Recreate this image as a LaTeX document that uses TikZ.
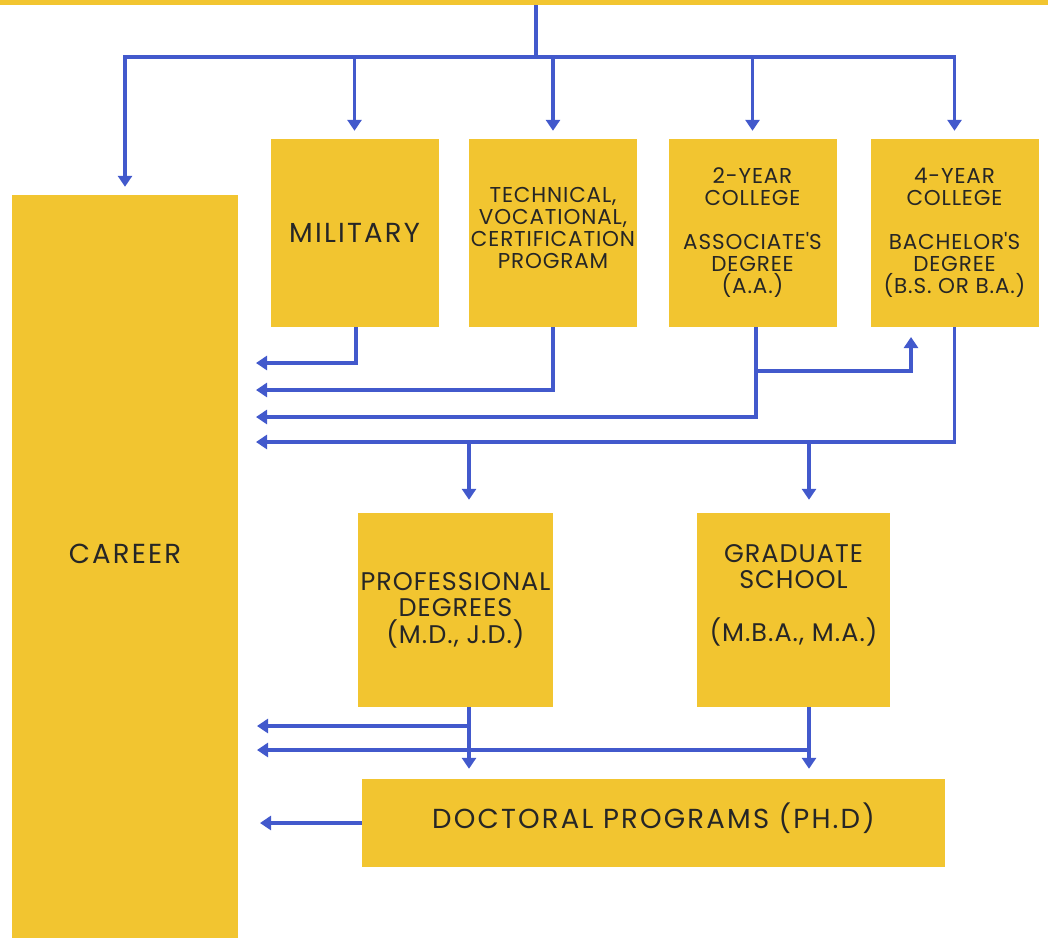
\documentclass[tikz,border=0pt]{standalone}
\usepackage{fontspec}
\setmainfont{Poppins}
\newfontfamily\smallface{Poppins}[LetterSpace=4]
\newfontfamily\largeface{Poppins}[LetterSpace=4]
\newfontfamily\hugeface{Poppins}[LetterSpace=8]
\usetikzlibrary{arrows.meta,positioning,calc}
\definecolor{boxyellow}{HTML}{F2C530}
\definecolor{flowblue}{HTML}{4259CC}

\begin{document}
\begin{tikzpicture}[x=1pt, y=-1pt,
  box/.style={fill=boxyellow, inner sep=0pt, align=center, text=black!85},
  small/.style={box, font=\smallface\fontsize{21.5}{22}\selectfont,
                minimum width=168pt, minimum height=188pt},
  large/.style={box, font=\largeface\fontsize{25.5}{26.5}\selectfont},
  huge/.style={box, font=\hugeface\fontsize{27.5}{28}\selectfont},
  link/.style={flowblue, line width=3.5pt},
  arrow/.style={link, -{Triangle[length=11pt,width=14pt]}},
]
  \useasboundingbox (0,0) rectangle (1048,938);

  % Boxes
  \node[box, minimum width=1048pt, minimum height=5pt, anchor=north] (start) at (524,0) {};
  \node[huge, minimum width=226pt, minimum height=743pt, text depth=26pt] (career) at (125,566.5) {CAREER};
  \node[small, huge] (mil) at (354.5,233) {MILITARY};
  \node[small, text depth=10pt] (tech) at (553,233) {TECHNICAL,\\VOCATIONAL,\\CERTIFICATION\\PROGRAM};
  \node[small] (two) at (752.5,233) {2-YEAR\\COLLEGE\\[22pt]ASSOCIATE\textquotesingle S\\DEGREE\\(A.A.)};
  \node[small] (four) at (954.5,233) {4-YEAR\\COLLEGE\\[22pt]BACHELOR\textquotesingle S\\DEGREE\\(B.S. OR B.A.)};
  \node[large, minimum width=195pt, minimum height=194pt] (prof) at (455.5,610) {PROFESSIONAL\\DEGREES\\(M.D., J.D.)};
  \node[large, minimum width=193pt, minimum height=194pt, text depth=35pt] (grad) at (793.5,610) {GRADUATE\\SCHOOL\\[26pt](M.B.A., M.A.)};
  \node[huge, minimum width=583pt, minimum height=88pt, text depth=15pt] (doc) at (653.5,823) {DOCTORAL PROGRAMS (PH.D)};

  % Ends of the arrows into career
  \coordinate (hub) at (536,57);
  \coordinate (t1) at (256,363);
  \coordinate (t2) at (256,390);
  \coordinate (t3) at (256,417);
  \coordinate (t4) at (256,442);
  \coordinate (t5) at (257,726);
  \coordinate (t6) at (257,750);
  \coordinate (t7) at (260,823);
  \coordinate (up4) at (911,337);
  \coordinate (b1) at (469,442);
  \coordinate (b2) at (809,442);

  % From the top
  \draw[link] (hub |- start.south) -- (hub);
  \foreach \n in {career, mil, tech, two, four}
    \draw[arrow, shorten >=8pt] (hub) -| (\n.north);

  % First level out
  \draw[arrow] ([xshift=1.5pt]mil.south) |- (t1);
  \draw[arrow] (tech.south) |- (t2);
  \draw[arrow] ([xshift=3.5pt]two.south) |- (t3);
  \draw[arrow] ([xshift=3.5pt]two.south |- 0,371) -| (up4);
  \draw[arrow] (four.south) |- (t4);
  \draw[arrow, shorten >=13pt] (b1) -- (b1 |- prof.north);
  \draw[arrow, shorten >=13pt] (b2) -- (b2 |- grad.north);

  % Second level out
  \draw[arrow, shorten >=10pt] (b1 |- prof.south) -- (b1 |- doc.north);
  \draw[arrow] (b1 |- t5) -- (t5);
  \draw[arrow, shorten >=10pt] (b2 |- grad.south) -- (b2 |- doc.north);
  \draw[arrow] (b2 |- t6) -- (t6);
  \draw[arrow] (doc.west) -- (t7);
\end{tikzpicture}
\end{document}
